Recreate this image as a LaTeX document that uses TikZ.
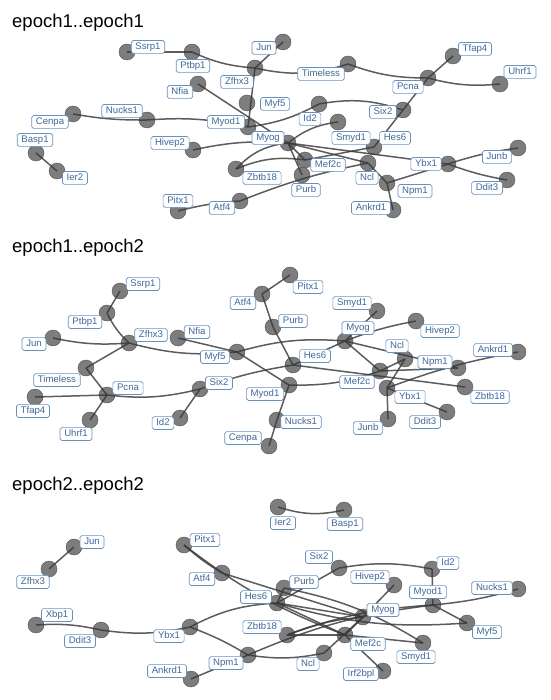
\documentclass[tikz,border=0pt]{standalone}
\usepackage{fontspec}
\setmainfont{Liberation Sans}
\definecolor{lblborder}{RGB}{105,145,190}
\definecolor{lbltext}{RGB}{62,105,155}
\tikzset{
  vtx/.style={circle, fill=black!58, draw=black!68, line width=0.4pt, fill opacity=0.88, minimum size=16pt, inner sep=0pt},
  edge/.style={draw=black!78, line width=1.5pt, draw opacity=0.82},
  lbl/.style={rectangle, rounded corners=1.8pt, draw=lblborder, line width=0.7pt, fill=white, text=lbltext,
    font=\fontsize{9.6}{10}\selectfont, inner xsep=4.2pt, inner ysep=1.9pt, text height=7.1pt, text depth=1.9pt},
  ttl/.style={font=\fontsize{18.5}{20}\selectfont, anchor=base west, inner sep=0pt}
}
\def\PA{Ssrp1/127/52/148/47, Ptbp1/192/52/193/66, Jun/283/42/264/48, Zfhx3/255/68/237/82,
 Nfia/198/84/180/92, Myf5/247/103/275/104, Myod1/248/127/226/122, Myog/288/143/268/138,
 Id2/319/104/310/119, Hivep2/193/150/170/143, Nucks1/147/120/122/111, Cenpa/73/114/50/122,
 Basp1/36/153/35/140, Ier2/57/171/75/178, Timeless/348/64/321/74, Pcna/428/78/408/87,
 Tfap4/453/56/475/49, Uhrf1/500/84/520/72, Six2/403/110/383/112, Smyd1/338/122/351/138,
 Hes6/374/147/395/138, Mef2c/305/160/328/165, Ncl/368/163/367/178, Npm1/387/183/415/191,
 Ybx1/448/164/426/164, Junb/518/148/497/157, Ddit3/507/180/487/188, Ankrd1/393/210/371/208,
 Purb/302/175/306/190, Zbtb18/236/169/262/178, Pitx1/178/211/178/201, Atf4/240/201/222/208}
\def\PB{Ssrp1/120/291/143/284, Ptbp1/107/313/85/322, Jun/53/338/34/344, Zfhx3/129/343/151/335,
 Nfia/178/338/197/332, Myf5/237/352/215/357, Timeless/86/368/57/380, Pcna/107/395/128/388,
 Tfap4/35/397/33/411, Uhrf1/90/420/76/434, Six2/200/389/219/383, Id2/180/418/163/423,
 Atf4/262/294/243/303, Pitx1/290/275/308/287, Purb/273/327/293/321, Smyd1/377/311/352/303,
 Myog/345/341/358/328, Hivep2/416/321/440/331, Ncl/405/359/397/346, Npm1/458/368/435/362,
 Ankrd1/518/352/493/350, Hes6/293/365/315/356, Mef2c/380/371/357/382, Ybx1/387/388/410/397,
 Zbtb18/465/387/490/397, Ddit3/447/412/425/422, Junb/388/419/368/428, Nucks1/277/420/301/422,
 Myod1/289/385/265/394, Cenpa/269/446/243/438}
\def\PC{Jun/74/547/92/542, Zfhx3/49/569/33/582, Xbp1/36/625/57/615, Ddit3/101/630/80/641,
 Ybx1/190/627/169/636, Pitx1/184/545/205/540, Atf4/222/573/202/579, Hes6/277/603/256/597,
 Ankrd1/191/679/167/671, Npm1/248/655/226/663, Zbtb18/287/635/262/627, Ncl/324/653/308/664,
 Purb/284/588/304/582, Six2/339/568/319/557, Ier2/278/507/283/523, Basp1/344/510/345/524,
 Id2/432/569/448/563, Hivep2/394/585/370/577, Myod1/433/605/428/592, Nucks1/518/589/492/588,
 Myog/363/617/383/610, Myf5/467/623/487/632, Mef2c/345/635/368/644, Smyd1/423/643/416/657,
 Irf2bpl/383/671/361/674}
\begin{document}
\begin{tikzpicture}[x=1pt, y=-1pt]
\useasboundingbox (0,0) rectangle (550,700);
\node[ttl] (t1) at (12,28) {epoch1..epoch1};
\node[ttl] (t2) at (12,253) {epoch1..epoch2};
\node[ttl] (t3) at (12,490) {epoch2..epoch2};
% vertices
\foreach \n/\cx/\cy/\lx/\ly in \PA {\coordinate (a\n) at (\cx,\cy); \node[vtx] (va\n) at (a\n) {};}
\foreach \n/\cx/\cy/\lx/\ly in \PB {\coordinate (b\n) at (\cx,\cy); \node[vtx] (vb\n) at (b\n) {};}
\foreach \n/\cx/\cy/\lx/\ly in \PC {\coordinate (c\n) at (\cx,\cy); \node[vtx] (vc\n) at (c\n) {};}
% edges panel 1
\foreach \u/\v/\b in {Basp1/Ier2/0, Cenpa/Nucks1/-5, Nucks1/Myod1/8, Ssrp1/Ptbp1/0, Ptbp1/Zfhx3/-10,
  Zfhx3/Jun/0, Zfhx3/Timeless/-15, Timeless/Pcna/-10, Pcna/Uhrf1/-10, Pcna/Tfap4/0, Pcna/Six2/0,
  Id2/Six2/14, Six2/Hes6/0, Hes6/Mef2c/0, Zfhx3/Myod1/0, Nfia/Myog/0, Myod1/Id2/-10,
  Hivep2/Myog/8, Myog/Smyd1/15, Zbtb18/Myog/20, Zbtb18/Mef2c/15, Myog/Mef2c/0, Myog/Purb/0,
  Myog/Ybx1/0, Myog/Ncl/0, Atf4/Ncl/5, Ncl/Npm1/0, Npm1/Ybx1/0, Npm1/Ankrd1/0, Ybx1/Junb/5,
  Ybx1/Ddit3/-5, Pitx1/Atf4/5}
  {\draw[edge] (a\u) to[bend left=\b] (a\v);}
% edges panel 2
\foreach \u/\v/\b in {Ssrp1/Ptbp1/0, Ptbp1/Zfhx3/-10, Jun/Zfhx3/-8, Zfhx3/Timeless/0, Timeless/Pcna/0,
  Pcna/Uhrf1/0, Tfap4/Pcna/0, Pcna/Six2/-10, Six2/Id2/0, Zfhx3/Myf5/-10, Nfia/Myf5/0, Myf5/Myog/10,
  Myf5/Myod1/0, Six2/Hes6/5, Hes6/Myog/0, Atf4/Pitx1/0, Atf4/Purb/0, Purb/Hes6/0, Hes6/Zbtb18/0,
  Myod1/Mef2c/-10, Myod1/Nucks1/0, Nucks1/Cenpa/0, Myog/Smyd1/0, Myog/Hivep2/5, Myog/Mef2c/0,
  Myog/Npm1/0, Mef2c/Ncl/0, Mef2c/Npm1/0, Ncl/Ybx1/0, Ybx1/Ankrd1/5, Ybx1/Junb/0, Ybx1/Ddit3/0}
  {\draw[edge] (b\u) to[bend left=\b] (b\v);}
% edges panel 3
\foreach \u/\v/\b in {Jun/Zfhx3/0, Ier2/Basp1/-15, Xbp1/Ddit3/8, Ddit3/Ybx1/-10, Ybx1/Hes6/12,
  Ybx1/Npm1/5, Npm1/Ankrd1/0, Npm1/Ncl/-10, Npm1/Myod1/8, Pitx1/Atf4/-5, Atf4/Myog/0, Pitx1/Mef2c/-8,
  Hes6/Purb/0, Hes6/Myog/0, Hes6/Mef2c/0, Six2/Hes6/0, Six2/Id2/10, Id2/Myod1/0, Myod1/Nucks1/-5,
  Myod1/Myf5/0, Zbtb18/Myog/8, Zbtb18/Myod1/8, Purb/Smyd1/10, Hes6/Myf5/-10, Hivep2/Myog/0,
  Myog/Mef2c/0, Mef2c/Smyd1/0, Mef2c/Irf2bpl/0, Ncl/Myog/0, Zbtb18/Mef2c/0}
  {\draw[edge] (c\u) to[bend left=\b] (c\v);}
% labels
\foreach \n/\cx/\cy/\lx/\ly in \PA {\node[lbl] (la\n) at (\lx,\ly) {\n};}
\foreach \n/\cx/\cy/\lx/\ly in \PB {\node[lbl] (lb\n) at (\lx,\ly) {\n};}
\foreach \n/\cx/\cy/\lx/\ly in \PC {\node[lbl] (lc\n) at (\lx,\ly) {\n};}
\end{tikzpicture}
\end{document}
